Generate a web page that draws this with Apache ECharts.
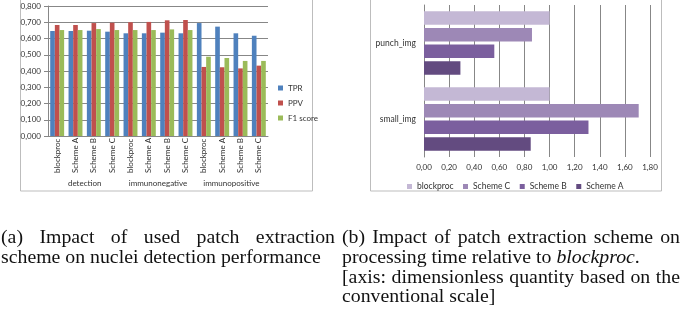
<!DOCTYPE html>
<html>
<head>
<meta charset="utf-8">
<script src="https://cdn.jsdelivr.net/npm/echarts@6/dist/echarts.min.js"></script>
<style>
  html, body { margin: 0; background: #fff; }
  #chart { width: 685px; height: 312px; }
</style>
</head>
<body>
<div id="chart"></div>
<script>
// (a) detection performance per task and patch extraction scheme
const schemes = ['blockproc', 'Scheme A', 'Scheme B', 'Scheme C'];
const tasks = ['detection', 'immunonegative', 'immunopositive'];
const tpr = [0.646, 0.646, 0.648, 0.642, 0.632, 0.632, 0.636, 0.632, 0.695, 0.673, 0.632, 0.617];
const ppv = [0.683, 0.683, 0.695, 0.697, 0.700, 0.702, 0.712, 0.714, 0.425, 0.423, 0.416, 0.433];
const f1 = [0.652, 0.652, 0.658, 0.652, 0.652, 0.652, 0.656, 0.652, 0.488, 0.480, 0.462, 0.462];

// (b) processing time relative to blockproc
const images = ['punch_img', 'small_img'];
const timeBlockproc = [1.00, 1.00];
const timeSchemeC = [0.86, 1.71];
const timeSchemeB = [0.56, 1.31];
const timeSchemeA = [0.29, 0.85];

const sans = 'Lato, "Open Sans", sans-serif';
const serif = '"Liberation Serif", serif';
const grey = '#878787';
const labelColor = '#333';

const cats = tasks.flatMap(() => schemes);
const comma = (d) => (v) => v.toFixed(d).replace('.', ',');

// captions: pick a size so the second line of (a) matches its width,
// then justify the full lines the way LaTeX did
const measure = document.createElement('canvas').getContext('2d');
function widthOf(text, size, italic) {
  measure.font = (italic ? 'italic ' : '') + size + 'px ' + serif;
  return measure.measureText(text).width;
}
const capSize = 17 * 320 / widthOf('scheme on nuclei detection performance', 17);

function word(text, x, y, italic) {
  return {
    type: 'text', x, y,
    style: {
      text, fill: '#111', fontSize: capSize, fontFamily: serif,
      fontStyle: italic ? 'italic' : 'normal', verticalAlign: 'middle',
    },
  };
}
function justified(line, x0, x1, y) {
  const words = line.split(' ');
  const ws = words.map((w) => widthOf(w, capSize));
  const gap = (x1 - x0 - ws.reduce((a, b) => a + b, 0)) / (words.length - 1);
  let x = x0;
  return words.map((w, i) => {
    const el = word(w, x, y);
    x += ws[i] + gap;
    return el;
  });
}
function runs(parts, x, y) {
  return parts.map(([text, italic]) => {
    const el = word(text, x, y, italic);
    x += widthOf(text, capSize, italic);
    return el;
  });
}

const captions = [
  ...justified('(a) Impact of used patch extraction', 1, 335, 238),
  ...runs([['scheme on nuclei detection performance']], 1, 258),
  ...justified('(b) Impact of patch extraction scheme on', 342, 680, 238),
  ...runs([['processing time relative to '], ['blockproc', true], ['.']], 342, 258),
  ...justified('[axis: dimensionless quantity based on the', 342, 680, 278),
  ...runs([['conventional scale]']], 342, 297),
];

const frames = [
  { type: 'rect', shape: { x: 20.5, y: -1, width: 292, height: 192 }, style: { fill: 'none', stroke: '#bdbdbd' } },
  { type: 'rect', shape: { x: 370.5, y: -1, width: 291, height: 192 }, style: { fill: 'none', stroke: '#bdbdbd' } },
];

function leftBar(name, data, color) {
  return {
    name, type: 'bar', xAxisIndex: 0, yAxisIndex: 0, data,
    itemStyle: { color }, barGap: 0, barCategoryGap: '24%',
  };
}
function rightBar(name, data, color) {
  return {
    name, type: 'bar', xAxisIndex: 2, yAxisIndex: 1, data,
    itemStyle: { color }, barWidth: 13.5, barGap: '24%',
  };
}

const chart = echarts.init(document.getElementById('chart'));
chart.setOption({
  animation: false,
  textStyle: { fontFamily: sans },
  grid: [
    { left: 48, top: 6, width: 220, height: 130 },
    { left: 424, top: 5, width: 226, height: 152 },
  ],
  xAxis: [
    {
      type: 'category', gridIndex: 0, data: cats, position: 'bottom',
      axisLine: { lineStyle: { color: grey } },
      axisTick: { interval: 0, alignWithLabel: false, length: 38, lineStyle: { color: grey } },
      axisLabel: {
        interval: 0, hideOverlap: false, rotate: 90, align: 'left', verticalAlign: 'middle', margin: 37,
        fontSize: 8, color: labelColor, fontFamily: sans,
      },
    },
    {
      type: 'category', gridIndex: 0, data: tasks, position: 'bottom',
      axisLine: { show: false },
      axisTick: { interval: 0, length: 54, lineStyle: { color: grey } },
      axisLabel: { interval: 0, hideOverlap: false, margin: 43, fontSize: 8, color: labelColor, fontFamily: sans },
    },
    {
      type: 'value', gridIndex: 1, min: 0, max: 1.8, interval: 0.2,
      axisLine: { show: false }, axisTick: { show: false },
      splitLine: { lineStyle: { color: grey } },
      axisLabel: { formatter: comma(2), margin: 6, fontSize: 8, color: labelColor, fontFamily: sans },
    },
  ],
  yAxis: [
    {
      type: 'value', gridIndex: 0, min: 0, max: 0.8, interval: 0.1,
      axisLine: { show: true, lineStyle: { color: grey } },
      axisTick: { show: true, length: 4, lineStyle: { color: grey } },
      splitLine: { lineStyle: { color: grey } },
      axisLabel: { formatter: comma(3), margin: 7, fontSize: 8, color: labelColor, fontFamily: sans },
    },
    {
      type: 'category', gridIndex: 1, data: images, inverse: true,
      axisLine: { show: true, lineStyle: { color: grey } },
      axisTick: { show: false },
      axisLabel: { margin: 8, fontSize: 8.5, color: labelColor, fontFamily: sans },
    },
  ],
  legend: [
    {
      data: ['TPR', 'PPV', 'F1 score'], orient: 'vertical', left: 273, top: 79,
      icon: 'rect', itemWidth: 5, itemHeight: 5, itemGap: 7,
      textStyle: { fontSize: 8, color: labelColor, fontFamily: sans },
    },
    {
      data: ['blockproc', 'Scheme C', 'Scheme B', 'Scheme A'], orient: 'horizontal', left: 402, top: 177,
      icon: 'rect', itemWidth: 5, itemHeight: 5, itemGap: 9.5,
      textStyle: { fontSize: 8.5, color: labelColor, fontFamily: sans },
    },
  ],
  series: [
    leftBar('TPR', tpr, '#4F81BD'),
    leftBar('PPV', ppv, '#C0504D'),
    leftBar('F1 score', f1, '#9BBB59'),
    rightBar('blockproc', timeBlockproc, '#c4b8d5'),
    rightBar('Scheme C', timeSchemeC, '#9d88b6'),
    rightBar('Scheme B', timeSchemeB, '#7b5f9e'),
    rightBar('Scheme A', timeSchemeA, '#634b80'),
  ],
  graphic: [...frames, ...captions],
});
</script>
</body>
</html>
